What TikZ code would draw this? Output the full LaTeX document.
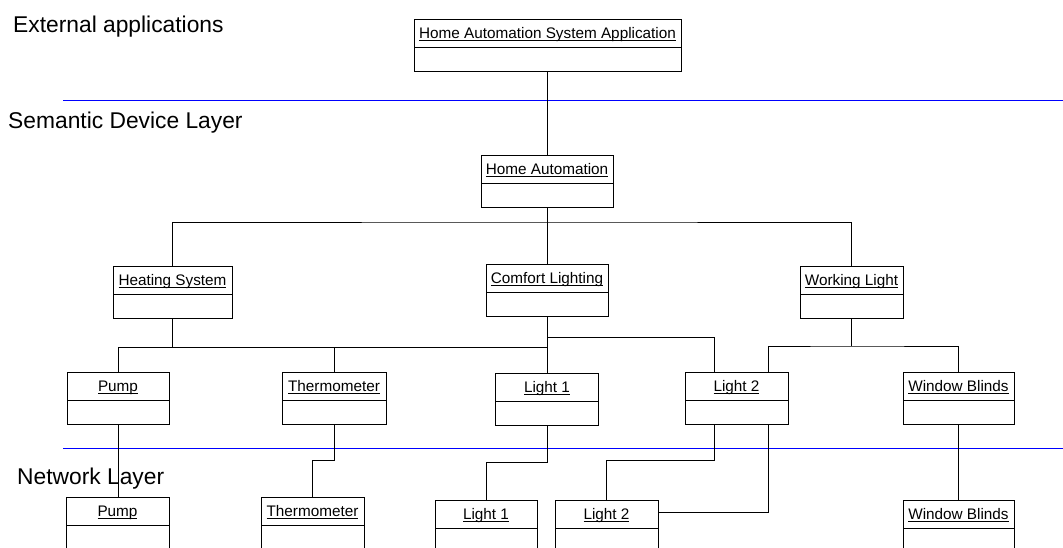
\documentclass[tikz,border=0pt]{standalone}
\usepackage{fontspec}
\setmainfont{Liberation Sans}
% underline at a fixed offset below the baseline, crossing descenders
\newcommand\ultext[1]{\setbox0\hbox{#1}\rlap{\rule[-1.8pt]{\wd0}{0.8pt}}\box0}
\begin{document}
\begin{tikzpicture}[x=1pt,y=-1pt,
  obj/.style={draw, line width=1pt, minimum height=52pt, inner xsep=0pt, inner ysep=0pt,
    text height=12pt, text depth=26pt, anchor=north,
    font=\fontsize{15.3}{18}\selectfont,
    path picture={\draw[line width=1pt]
      ([yshift=-27.5pt]path picture bounding box.north west) --
      ([yshift=-27.5pt]path picture bounding box.north east);}},
  link/.style={line width=0.9pt},
  layer/.style={anchor=base west, inner sep=0pt, font=\fontsize{22.8}{26}\selectfont},
  sep/.style={blue, line width=1pt}]
\useasboundingbox (0,0) rectangle (1063,547);
\clip (0,0) rectangle (1063,547);

% layer labels and separators
\node[layer] (extlbl) at (13,32) {External applications};
\node[layer] (semlbl) at (8,128) {Semantic Device Layer};
\node[layer] (netlbl) at (17,484) {Network Layer};
\draw[sep] (63,100) -- (1063,100);
\draw[sep] (63,448) -- (1063,448);

% external application
\node[obj, minimum width=267pt] (app) at (547.5,19) {\ultext{Home Automation System Application}};

% semantic device layer
\node[obj, minimum width=132pt] (ha) at (547,155) {\ultext{Home Automation}};
\node[obj, minimum width=119pt] (heat) at (172.5,266) {\ultext{Heating System}};
\node[obj, minimum width=122pt] (comfort) at (547,264) {\ultext{Comfort Lighting}};
\node[obj, minimum width=103pt] (work) at (851.5,266) {\ultext{Working Light}};
\node[obj, minimum width=102pt] (pumpS) at (118,372) {\ultext{Pump}};
\node[obj, minimum width=104pt] (thermS) at (334,372) {\ultext{Thermometer}};
\node[obj, minimum width=103pt] (l1S) at (547,373) {\ultext{Light 1}};
\node[obj, minimum width=103pt] (l2S) at (736.5,372) {\ultext{Light 2}};
\node[obj, minimum width=111pt] (wbS) at (958.5,372) {\ultext{Window Blinds}};

% network layer
\node[obj, minimum width=103pt] (pumpN) at (117.5,497) {\ultext{Pump}};
\node[obj, minimum width=103pt] (thermN) at (312.5,497) {\ultext{Thermometer}};
\node[obj, minimum width=102pt] (l1N) at (486,500) {\ultext{Light 1}};
\node[obj, minimum width=103pt] (l2N) at (606.5,500) {\ultext{Light 2}};
\node[obj, minimum width=111pt] (wbN) at (958.5,500) {\ultext{Window Blinds}};

% connectors
\draw[link] (app.south) -- (app.south |- ha.north);

\path (ha.south) ++(0,14) coordinate (habus);
\draw[link] (ha.south) -- (habus);
\draw[link] (heat.north) |- (habus) -| (work.north);
\draw[link] (habus) -- (comfort.north);

\path (heat.south) ++(0,28) coordinate (heatbus);
\draw[link] (heat.south) -- (heatbus);
\draw[link] (pumpS.north) |- (heatbus -| l1S.north);
\draw[link] (thermS.north) -- (thermS.north |- heatbus);

\coordinate (l2a) at ([xshift=-22.5pt]l2S.north);
\coordinate (l2b) at ([xshift=31.5pt]l2S.north);
\draw[link] (comfort.south) -- (l1S.north);
\path (comfort.south) ++(0,20) coordinate (comfbus);
\draw[link] (comfbus) -| (l2a);

\path (work.south) ++(0,27) coordinate (workbus);
\draw[link] (work.south) -- (workbus);
\draw[link] (l2b) |- (workbus) -| (wbS.north);

\draw[link] (pumpS.south) -- (pumpS.south |- pumpN.north);
\draw[link] (thermS.south) -- ++(0,35) -| (thermN.north);
\draw[link] (l1S.south) -- ++(0,36) -| (l1N.north);
\draw[link] (l2S.south -| l2a) -- ++(0,35) -| (l2N.north);
\draw[link] (l2S.south -| l2b) |- ([yshift=-12pt]l2N.north east);
\draw[link] (wbS.south) -- (wbN.north);
\end{tikzpicture}
\end{document}
